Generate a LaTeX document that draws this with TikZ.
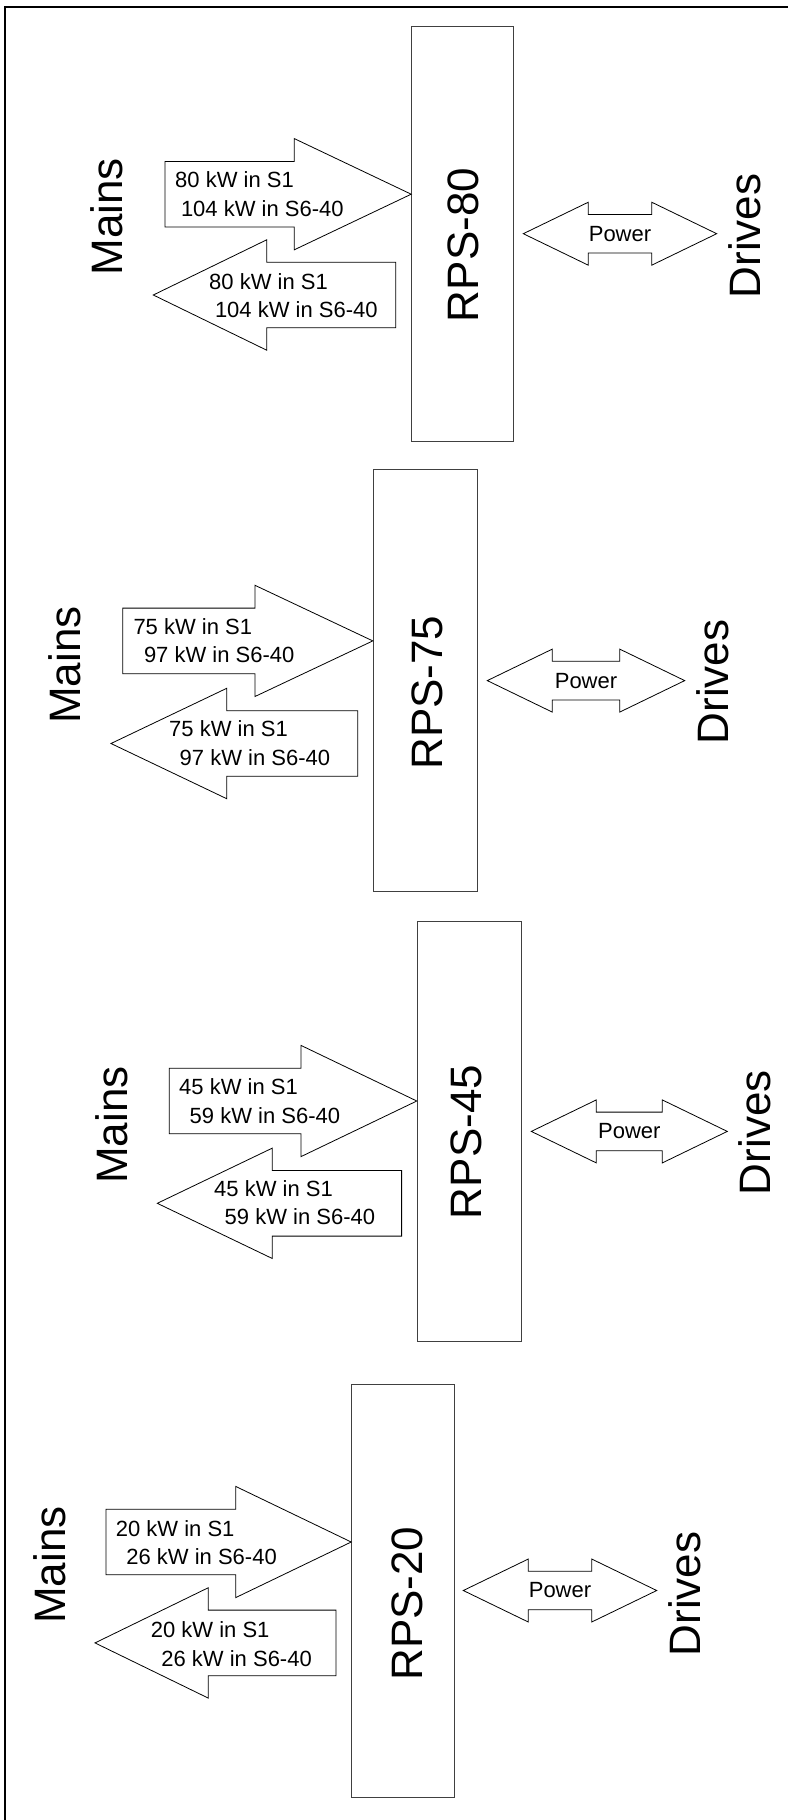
\documentclass[tikz,border=0pt]{standalone}
\usepackage{fontspec}
\setmainfont{Liberation Sans}
\newcommand\rblockarrow[4]{% shaft left, head base, tip, centre y
  \draw[shp] (#1,{#4-32.8}) -- (#2,{#4-32.8}) -- (#2,{#4-55.6}) -- (#3,#4)
    -- (#2,{#4+55.6}) -- (#2,{#4+32.8}) -- (#1,{#4+32.8}) -- cycle;}
\newcommand\lblockarrow[4]{% tip, head base, shaft right, centre y
  \draw[shp] (#3,{#4-32.8}) -- (#2,{#4-32.8}) -- (#2,{#4-55.2}) -- (#1,#4)
    -- (#2,{#4+55.2}) -- (#2,{#4+32.8}) -- (#3,{#4+32.8}) -- cycle;}
\newcommand\dblblockarrow[3]{% left tip, right tip, centre y
  \draw[shp] (#1,#3) -- ({#1+65},{#3-31.5}) -- ({#1+65},{#3-19.3}) -- ({#2-65},{#3-19.3})
    -- ({#2-65},{#3-31.5}) -- (#2,#3) -- ({#2-65},{#3+31.5}) -- ({#2-65},{#3+19.3})
    -- ({#1+65},{#3+19.3}) -- ({#1+65},{#3+31.5}) -- cycle;}
\begin{document}
\begin{tikzpicture}[x=1pt,y=-1pt,
  frame/.style={line width=2pt},
  shp/.style={draw=black, line width=0.8pt, fill=white, line join=miter},
  box/.style={draw=black!75, line width=1pt, fill=white, inner sep=0pt},
  big/.style={font=\fontsize{44}{50}\selectfont, inner sep=0pt, rotate=90},
  small/.style={font=\fontsize{22}{28.5}\selectfont, inner sep=0pt, align=left, anchor=north west},
  pw/.style={font=\fontsize{22}{26}\selectfont, inner sep=0pt}]
\useasboundingbox (0,0) rectangle (788,1820);
\fill[white] (0,0) rectangle (788,1820);
\draw[frame] (5.3,1820) -- (5.3,7.3) -- (788,7.3);

% ---------- block 1 : RPS-80
\node[box, minimum width=101.8pt, minimum height=415pt] (box1) at (462.6,233.5) {};
\node[big] (rps1) at (463,245) {RPS-80};
\rblockarrow{165}{294.3}{411.2}{194.2}
\lblockarrow{153.3}{266.7}{395.7}{295}
\dblblockarrow{523.3}{716.7}{233.7}
\node[small] (in1) at (175,171.7) {80 kW in S1\\\hspace*{5.8pt}104 kW in S6-40};
\node[small] (out1) at (209,273) {80 kW in S1\\\hspace*{5.8pt}104 kW in S6-40};
\node[pw] (pw1) at (620,233.7) {Power};
\node[big] (mains1) at (106.7,216.7) {Mains};
\node[big] (drives1) at (745,236) {Drives};

% ---------- block 2 : RPS-75
\node[box, minimum width=104.2pt, minimum height=422.3pt] (box2) at (425.4,680.45) {};
\node[big] (rps2) at (427.4,692.7) {RPS-75};
\rblockarrow{122.7}{255}{372.8}{640.9}
\lblockarrow{111}{226.7}{357.7}{743.5}
\dblblockarrow{487.3}{684.7}{680.6}
\node[small] (in2) at (133.3,618) {75 kW in S1\\\hspace*{10.5pt}97 kW in S6-40};
\node[small] (out2) at (169,720.7) {75 kW in S1\\\hspace*{10.5pt}97 kW in S6-40};
\node[pw] (pw2) at (586,680.6) {Power};
\node[big] (mains2) at (65,665) {Mains};
\node[big] (drives2) at (712.4,682) {Drives};

% ---------- block 3 : RPS-45
\node[box, minimum width=104.4pt, minimum height=419.5pt] (box3) at (469.5,1131.55) {};
\node[big] (rps3) at (466.5,1142) {RPS-45};
\rblockarrow{169.3}{301}{416.8}{1101}
\lblockarrow{157.3}{272.3}{401.6}{1203.3}
\dblblockarrow{531.3}{727.3}{1131.4}
\node[small] (in3) at (179,1078.6) {45 kW in S1\\\hspace*{10.5pt}59 kW in S6-40};
\node[small] (out3) at (214,1180) {45 kW in S1\\\hspace*{10.5pt}59 kW in S6-40};
\node[pw] (pw3) at (629.3,1131.4) {Power};
\node[big] (mains3) at (111.7,1125) {Mains};
\node[big] (drives3) at (754.8,1132.8) {Drives};

% ---------- block 4 : RPS-20
\node[box, minimum width=102.3pt, minimum height=413.3pt] (box4) at (402.85,1591.25) {};
\node[big] (rps4) at (407.3,1603.7) {RPS-20};
\rblockarrow{106}{235.7}{351.2}{1542}
\lblockarrow{95}{208.3}{336}{1642.9}
\dblblockarrow{463.3}{656.7}{1590.5}
\node[small] (in4) at (115.7,1520) {20 kW in S1\\\hspace*{10.5pt}26 kW in S6-40};
\node[small] (out4) at (150.7,1621.8) {20 kW in S1\\\hspace*{10.5pt}26 kW in S6-40};
\node[pw] (pw4) at (560,1590.5) {Power};
\node[big] (mains4) at (50,1565) {Mains};
\node[big] (drives4) at (684.8,1594) {Drives};
\end{tikzpicture}
\end{document}
